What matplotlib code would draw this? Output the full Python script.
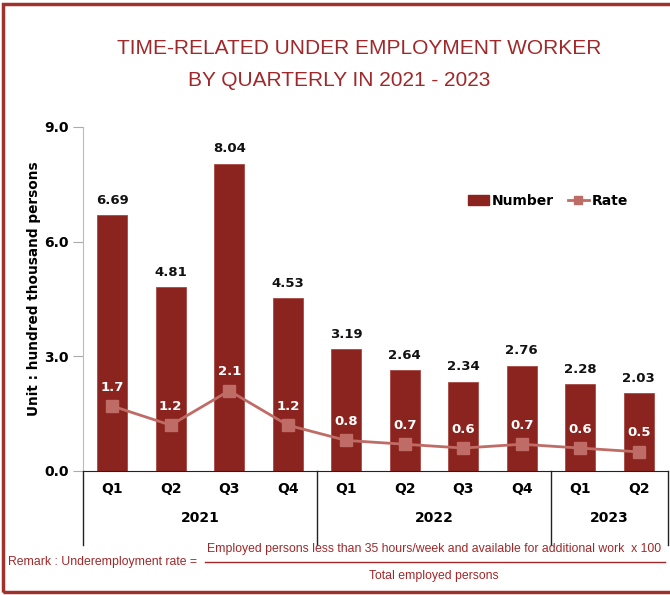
import matplotlib.pyplot as plt
from matplotlib.lines import Line2D
from matplotlib.patches import Rectangle, Patch

quarters = ["Q1", "Q2", "Q3", "Q4", "Q1", "Q2", "Q3", "Q4", "Q1", "Q2"]
years = ["2021", "2022", "2023"]
year_sizes = [4, 4, 2]
number = [6.69, 4.81, 8.04, 4.53, 3.19, 2.64, 2.34, 2.76, 2.28, 2.03]
rate = [1.7, 1.2, 2.1, 1.2, 0.8, 0.7, 0.6, 0.7, 0.6, 0.5]

BAR_COLOR = "#8B231E"
RATE_COLOR = "#C06C66"
TEXT_RED = "#A0282A"

fig = plt.figure(figsize=(6.7, 5.95), dpi=100)
ax = fig.add_axes([83 / 670, 1 - 471 / 595, 585 / 670, 344 / 595])

x = list(range(len(number)))
ax.bar(x, number, width=0.52, color=BAR_COLOR, edgecolor="#A84A44", linewidth=0.6, zorder=2)
ax.plot(x, rate, color=RATE_COLOR, linewidth=2, marker="s", markersize=8,
        markerfacecolor=RATE_COLOR, markeredgecolor=RATE_COLOR, zorder=3)

for xi, v in zip(x, number):
    ax.annotate(f"{v:.2f}", (xi, v), xytext=(0, 6), textcoords="offset points",
                ha="center", va="bottom", fontsize=9.5, fontweight="bold", color="#111111")
for xi, v in zip(x, rate):
    ax.annotate(f"{v:.1f}", (xi, v), xytext=(0, 9), textcoords="offset points",
                ha="center", va="bottom", fontsize=9.5, fontweight="bold", color="white", zorder=4)

ax.set_xlim(-0.5, len(number) - 0.5)
ax.set_ylim(0, 9)
ax.set_yticks([0, 3, 6, 9])
ax.set_yticklabels(["0.0", "3.0", "6.0", "9.0"], fontsize=10, fontweight="bold")
ax.tick_params(axis="y", length=7, color="#AAAAAA", pad=3)
ax.set_xticks([])
for s in ["top", "right"]:
    ax.spines[s].set_visible(False)
ax.spines["left"].set_color("#BBBBBB")
ax.spines["bottom"].set_color("#222222")

# quarter labels and year groups
for xi, q in zip(x, quarters):
    ax.text(xi, -0.052, q, transform=ax.get_xaxis_transform(), ha="center", va="center",
            fontsize=10, fontweight="bold")
start = 0
bounds = [-0.5]
for yr, n in zip(years, year_sizes):
    ax.text(start + (n - 1) / 2, -0.137, yr, transform=ax.get_xaxis_transform(),
            ha="center", va="center", fontsize=10, fontweight="bold")
    start += n
    bounds.append(start - 0.5)
for b in bounds:
    ax.add_line(Line2D([b, b], [0, -0.215], transform=ax.get_xaxis_transform(),
                       color="#222222", linewidth=1, clip_on=False))

ax.set_ylabel("Unit : hundred thousand persons", fontsize=9.8, fontweight="bold")
ax.yaxis.set_label_coords(-0.072, 0.53)

handles = [Patch(facecolor=BAR_COLOR, edgecolor=BAR_COLOR),
           Line2D([], [], color=RATE_COLOR, linewidth=2, marker="s", markersize=6)]
fig.legend(handles, ["Number", "Rate"], loc="center", bbox_to_anchor=(548 / 670, 1 - 201 / 595),
           ncol=2, frameon=False, prop={"weight": "bold", "size": 10},
           handlelength=1.5, handletextpad=0.2, columnspacing=1.0)

fig.text(359 / 670, 1 - 49 / 595, "TIME-RELATED UNDER EMPLOYMENT WORKER", ha="center", va="center",
         fontsize=15, color=TEXT_RED, family="Liberation Sans")
fig.text(339 / 670, 1 - 81 / 595, "BY QUARTERLY IN 2021 - 2023", ha="center", va="center",
         fontsize=15, color=TEXT_RED, family="Liberation Sans")

fig.text(8 / 670, 1 - 562 / 595, "Remark : Underemployment rate =", ha="left", va="center",
         fontsize=8.8, color=TEXT_RED, family="Liberation Sans")
fig.text(434 / 670, 1 - 549 / 595,
         "Employed persons less than 35 hours/week and available for additional work  x 100",
         ha="center", va="center", fontsize=8.8, color=TEXT_RED, family="Liberation Sans")
fig.add_artist(Line2D([205 / 670, 665 / 670], [1 - 562 / 595, 1 - 562 / 595],
                      color=TEXT_RED, linewidth=1.0))
fig.text(434 / 670, 1 - 576 / 595, "Total employed persons", ha="center", va="center",
         fontsize=8.8, color=TEXT_RED, family="Liberation Sans")

fig.add_artist(Rectangle((3 / 670, 3 / 595), 1.1, 1 - 7 / 595, transform=fig.transFigure,
                         fill=False, edgecolor="#A0322E", linewidth=2.5))

fig.savefig("out.png", dpi=100)
